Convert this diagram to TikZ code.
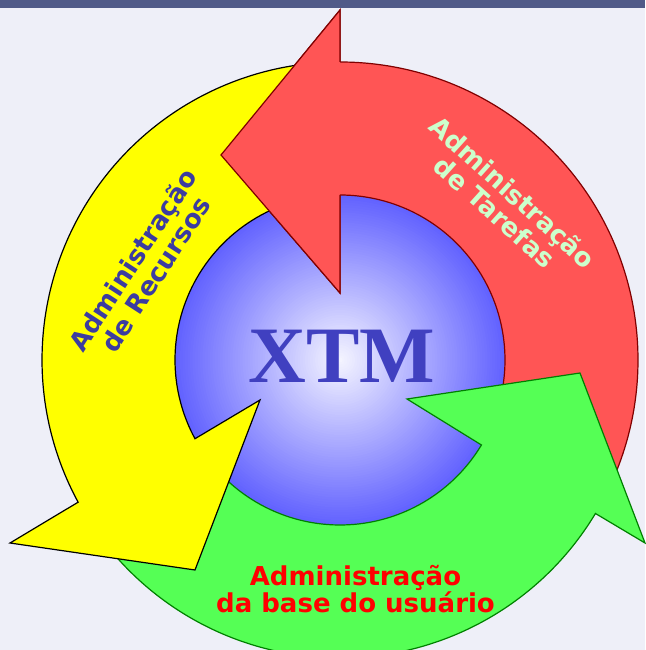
\documentclass[tikz,border=0pt]{standalone}
\usepackage{fontspec}
\setmainfont{DejaVu Sans}
\newfontfamily\xtmfont{Liberation Serif}
\definecolor{bgcol}{RGB}{238,239,248}
\definecolor{barcol}{RGB}{80,90,136}
\definecolor{redfill}{RGB}{255,85,85}
\definecolor{redline}{RGB}{128,0,0}
\definecolor{yelfill}{RGB}{255,255,0}
\definecolor{grnfill}{RGB}{85,255,85}
\definecolor{grnline}{RGB}{0,128,0}
\definecolor{xtmcol}{RGB}{64,64,192}
\definecolor{rescol}{RGB}{60,60,160}
\definecolor{tarcol}{RGB}{204,255,204}
\definecolor{ballin}{RGB}{246,246,255}
\definecolor{ballout}{RGB}{98,98,255}
\tikzset{
  redarrow/.style={fill=redfill, draw=redline},
  grnarrow/.style={fill=grnfill, draw=grnline},
  yelarrow/.style={fill=yelfill, draw=black},
  lbl/.style={font=\bfseries\fontsize{26}{27}\selectfont, align=center, inner sep=0pt},
}
\begin{document}
\begin{tikzpicture}[x=1pt,y=1pt,line width=1.2pt,line join=miter]
\useasboundingbox (-340,-290) rectangle (305,360);
\fill[bgcol] (-340,-290) rectangle (305,360);
\fill[barcol] (-340,352) rectangle (305,360);
% central disc with radial gradient
\foreach \i in {0,...,65}{
  \pgfmathsetmacro{\rr}{165*(1-\i/66)}
  \pgfmathsetmacro{\pp}{100*\i/66}
  \fill[ballin!\pp!ballout] (0,0) circle[radius=\rr];
}
% red arrow
\draw[redarrow] (90:298) arc[start angle=90, end angle=-25, radius=298]
  -- (-25:165) arc[start angle=-25, end angle=90, radius=165]
  -- (0,67) -- (-119,205) -- (0,350) -- cycle;
% green arrow
\draw[grnarrow] (-31:298) arc[start angle=-31, end angle=-145, radius=298]
  -- (-145:165) arc[start angle=-145, end angle=-31, radius=165]
  -- (67,-39) -- (240,-13) -- (305,-183) -- cycle;
% yellow arrow
\draw[yelarrow] (208.5:298) arc[start angle=208.5, end angle=94, radius=298]
  -- (94:165) arc[start angle=94, end angle=208.5, radius=165]
  -- (-80,-40) -- (-145,-210) -- (-330,-183) -- cycle;
% red head again, over the yellow tail
\fill[redfill] (90:298) -- (0,350) -- (-119,205) -- (0,67) -- (90:165) -- cycle;
\draw[redline] (90:298) -- (0,350) -- (-119,205) -- (0,67) -- (90:165);
% texts
\node[font=\xtmfont\bfseries\fontsize{80}{82}\selectfont, text=xtmcol, anchor=base, inner sep=0pt] (xtm) at (2,-23) {XTM};
\node[lbl, text=red] (usr) at (15.5,-229) {Administração\\da base do usuário};
\node[lbl, text=tarcol, rotate=-42] (tar) at (164,158) {Administração\\de Tarefas};
\node[lbl, text=rescol, rotate=57] (res) at (-196,93) {Administração\\de Recursos};
\end{tikzpicture}
\end{document}
